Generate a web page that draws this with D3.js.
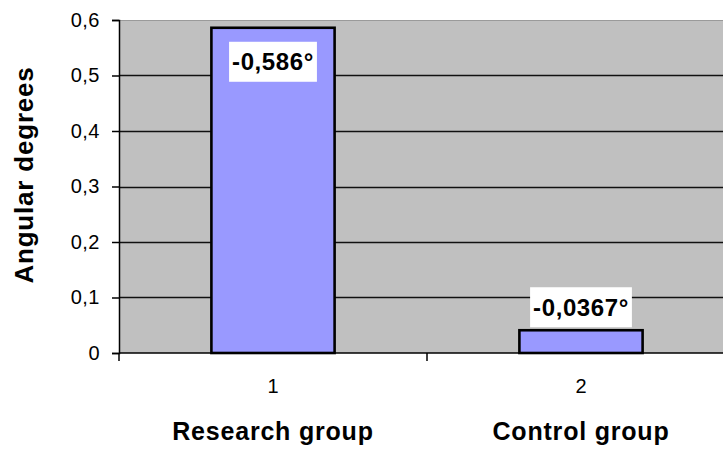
<!DOCTYPE html>
<html><head><meta charset="utf-8">
<script src="https://cdn.jsdelivr.net/npm/d3@7"></script>
<style>
html,body{margin:0;padding:0;background:#fff;}
svg{display:block;font-family:"Liberation Sans",Arial,sans-serif;}
</style></head>
<body>
<svg id="chart" width="723" height="450"></svg>
<script>
const categories = ["1", "2"];
const groupNames = ["Research group", "Control group"];
const values = [0.586, 0.041];
const labels = ["-0,586°", "-0,0367°"];
const yTicks = [0, 0.1, 0.2, 0.3, 0.4, 0.5, 0.6];
const yTitle = "Angular degrees";

(function () {
const svg = d3.select("#chart");
const pl = 119, pr = 735, pt = 20, pb = 353;

const x = d3.scaleBand().domain(categories).range([pl, pr]).paddingInner(0.6).paddingOuter(0.3);
const xEdge = d3.scaleLinear().domain([0, categories.length]).range([pl, pr]);
const y = d3.scaleLinear().domain([0, 0.6]).range([pb, pt]);

// plot background
svg.append("rect").attr("x", pl).attr("y", pt).attr("width", pr - pl).attr("height", pb - pt).attr("fill", "#c0c0c0");
svg.append("line").attr("x1", pl).attr("x2", pr).attr("y1", pt + 0.5).attr("y2", pt + 0.5).attr("stroke", "#9a9a9a").attr("stroke-width", 1);

// gridlines
svg.append("g").selectAll("line").data(yTicks.filter(d => d > 0 && d < 0.6)).join("line")
  .attr("x1", pl).attr("x2", pr)
  .attr("y1", d => Math.round(y(d)) + 0.5).attr("y2", d => Math.round(y(d)) + 0.5)
  .attr("stroke", "#111").attr("stroke-width", 1.4);

// bars
svg.append("g").selectAll("rect").data(values).join("rect")
  .attr("x", (d, i) => x(categories[i]))
  .attr("y", d => y(d))
  .attr("width", x.bandwidth())
  .attr("height", d => pb - y(d))
  .attr("fill", "#9999ff").attr("stroke", "#000").attr("stroke-width", 2.6);

// y axis
const yAxis = d3.axisLeft(y).tickValues(yTicks).tickSize(7).tickPadding(12)
  .tickFormat(d => d === 0 ? "0" : d3.format(".1f")(d).replace(".", ","));
const gy = svg.append("g").attr("transform", `translate(${pl},0)`).call(yAxis);
gy.select(".domain").attr("stroke", "#000").attr("stroke-width", 1.5);
gy.selectAll(".tick line").attr("stroke", "#000").attr("stroke-width", 1.5);
gy.selectAll("text").attr("font-size", 20).attr("fill", "#000").attr("letter-spacing", 0.5)
  .attr("font-family", "Liberation Sans, Arial, sans-serif");

// x axis
const gx = svg.append("g").attr("transform", `translate(0,${pb})`);
gx.append("line").attr("x1", pl).attr("x2", pr).attr("y1", 0).attr("y2", 0).attr("stroke", "#000").attr("stroke-width", 1.5);
gx.selectAll(".edge").data(d3.range(categories.length + 1)).join("line").attr("class", "edge")
  .attr("x1", d => xEdge(d)).attr("x2", d => xEdge(d)).attr("y1", 0).attr("y2", 8)
  .attr("stroke", "#000").attr("stroke-width", 1.5);
gx.selectAll(".cat").data(categories).join("text").attr("class", "cat")
  .attr("x", d => x(d) + x.bandwidth() / 2).attr("y", 40)
  .attr("text-anchor", "middle").attr("font-size", 20).attr("fill", "#000").text(d => d);
gx.selectAll(".name").data(groupNames).join("text").attr("class", "name")
  .attr("x", (d, i) => x(categories[i]) + x.bandwidth() / 2).attr("y", 87)
  .attr("text-anchor", "middle").attr("font-size", 25).attr("font-weight", "bold").attr("letter-spacing", 0.8)
  .attr("fill", "#000").text(d => d);

// y title
svg.append("text").attr("transform", `translate(33,${(68 + 282) / 2}) rotate(-90)`)
  .attr("text-anchor", "middle").attr("font-size", 26).attr("font-weight", "bold").attr("letter-spacing", 0.8)
  .attr("fill", "#000").text(yTitle);

// data labels
const lg = svg.append("g");
values.forEach((v, i) => {
  const cx = x(categories[i]) + x.bandwidth() / 2;
  const t = lg.append("text").attr("x", cx).attr("text-anchor", "middle")
    .attr("font-size", 24).attr("font-weight", "bold").attr("letter-spacing", 0.6)
    .attr("fill", "#000").text(labels[i]);
  const bb = t.node().getBBox();
  const w = bb.width + 6, h = 40;
  let boxTop = y(v) - 3 - h;
  if (boxTop < pt) boxTop = y(v) + 14;
  lg.insert("rect", "text").attr("x", cx - w / 2).attr("y", boxTop).attr("width", w).attr("height", h).attr("fill", "#fff");
  t.attr("y", boxTop + h / 2 + 8.5);
});
})();
</script>
</body></html>
